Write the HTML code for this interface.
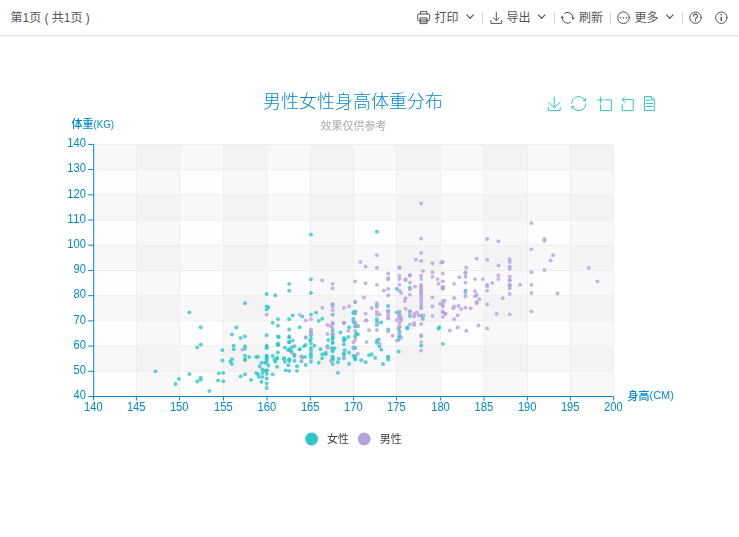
<!DOCTYPE html>
<html lang="zh"><head><meta charset="utf-8"><title>男性女性身高体重分布</title>
<style>
html,body{margin:0;padding:0;background:#fff;}
body{width:739px;height:537px;overflow:hidden;position:relative;font-family:"Liberation Sans", "Noto Sans CJK SC", sans-serif;}
.tb{position:absolute;left:0;top:0;width:739px;height:35px;border-bottom:1px solid #e0e0e0;background:#fff;}
.tb span{position:absolute;top:9.3px;height:18px;line-height:18px;font-size:12px;color:#555;white-space:nowrap;}
.tb i.sep{position:absolute;top:12px;width:1px;height:12px;background:#d4d4d4;}
.tb svg{position:absolute;overflow:visible;}
svg text{font-family:"Liberation Sans", "Noto Sans CJK SC", sans-serif;}
</style></head><body>
<div class="tb">
<span style="left:10.5px">第1页 ( 共1页 )</span>
<span style="left:434.5px">打印</span>
<span style="left:506.5px">导出</span>
<span style="left:579.1px">刷新</span>
<span style="left:634.5px">更多</span>
<i class="sep" style="left:482.2px"></i>
<i class="sep" style="left:554.0px"></i>
<i class="sep" style="left:609.8px"></i>
<i class="sep" style="left:681.5px"></i>
<svg width="739" height="35" viewBox="0 0 739 35" style="left:0;top:0" fill="none" stroke="#555" stroke-width="1" stroke-linecap="round" stroke-linejoin="round">
<path d="M420.4 14v-2.4h6.6v2.4M420.4 20.6h-1.7q-1 0-1-1v-4.6q0-1 1-1h10q1 0 1 1v4.6q0 1-1 1h-1.7M420.4 17.9h6.6v5.7h-6.6zM420.4 19.9h6.6M420.4 21.8h6.6"/>
<path d="M466.6 14.6l3.5 3.7l3.5-3.7" stroke-width="1.2" stroke-linecap="butt"/>
<path d="M538.2 14.6l3.5 3.7l3.5-3.7" stroke-width="1.2" stroke-linecap="butt"/>
<path d="M666.3 14.6l3.5 3.7l3.5-3.7" stroke-width="1.2" stroke-linecap="butt"/>
<path d="M496.3 12.3v8.2M493.4 17.6l2.9 2.9l2.9-2.9M490.9 20.4v3h10.8v-3"/>
<path d="M564.23 13.54A5.4 5.4 0 0 1 572.95 17.80M570.87 22.06A5.4 5.4 0 0 1 562.15 17.80" stroke-linecap="butt"/>
<path d="M571.25 17.60h3.4l-1.7 2.5zM560.45 18.00h3.4l-1.7 -2.5z" fill="#555" stroke="none"/>
<circle cx="623.5" cy="17.7" r="5.8"/>
<g fill="#555" stroke="none"><circle cx="620.5" cy="17.8" r="0.8"/><circle cx="623.5" cy="17.8" r="0.8"/><circle cx="626.5" cy="17.8" r="0.8"/></g>
<circle cx="695.5" cy="17.7" r="5.7"/>
<path d="M693.5 16.1a2 2 0 1 1 3 1.7q-1 0.6-1 1.5" stroke-width="1.15"/><circle cx="695.5" cy="21" r="0.75" fill="#555" stroke="none"/>
<circle cx="721.3" cy="17.7" r="5.7"/>
<path d="M721.3 16.8v4.2" stroke-width="1.5" stroke-linecap="butt"/><circle cx="721.3" cy="14.6" r="0.85" fill="#555" stroke="none"/>
</svg>
</div>
<svg width="739" height="502" viewBox="0 35 739 502" style="position:absolute;left:0;top:35px;will-change:transform">
<rect x="93.55" y="144.40" width="42.90" height="252.10" fill="rgba(250,250,250,0.1)"/>
<rect x="136.45" y="144.40" width="43.00" height="252.10" fill="rgba(200,200,200,0.1)"/>
<rect x="179.45" y="144.40" width="44.05" height="252.10" fill="rgba(250,250,250,0.1)"/>
<rect x="223.50" y="144.40" width="43.50" height="252.10" fill="rgba(200,200,200,0.1)"/>
<rect x="267.00" y="144.40" width="43.40" height="252.10" fill="rgba(250,250,250,0.1)"/>
<rect x="310.40" y="144.40" width="43.10" height="252.10" fill="rgba(200,200,200,0.1)"/>
<rect x="353.50" y="144.40" width="43.10" height="252.10" fill="rgba(250,250,250,0.1)"/>
<rect x="396.60" y="144.40" width="44.10" height="252.10" fill="rgba(200,200,200,0.1)"/>
<rect x="440.70" y="144.40" width="43.30" height="252.10" fill="rgba(250,250,250,0.1)"/>
<rect x="484.00" y="144.40" width="43.40" height="252.10" fill="rgba(200,200,200,0.1)"/>
<rect x="527.40" y="144.40" width="43.00" height="252.10" fill="rgba(250,250,250,0.1)"/>
<rect x="570.40" y="144.40" width="43.20" height="252.10" fill="rgba(200,200,200,0.1)"/>
<rect x="93.65" y="371.29" width="519.95" height="25.21" fill="rgba(250,250,250,0.1)"/>
<rect x="93.65" y="346.08" width="519.95" height="25.21" fill="rgba(200,200,200,0.1)"/>
<rect x="93.65" y="320.87" width="519.95" height="25.21" fill="rgba(250,250,250,0.1)"/>
<rect x="93.65" y="295.66" width="519.95" height="25.21" fill="rgba(200,200,200,0.1)"/>
<rect x="93.65" y="270.45" width="519.95" height="25.21" fill="rgba(250,250,250,0.1)"/>
<rect x="93.65" y="245.24" width="519.95" height="25.21" fill="rgba(200,200,200,0.1)"/>
<rect x="93.65" y="220.03" width="519.95" height="25.21" fill="rgba(250,250,250,0.1)"/>
<rect x="93.65" y="194.82" width="519.95" height="25.21" fill="rgba(200,200,200,0.1)"/>
<rect x="93.65" y="169.61" width="519.95" height="25.21" fill="rgba(250,250,250,0.1)"/>
<rect x="93.65" y="144.40" width="519.95" height="25.21" fill="rgba(200,200,200,0.1)"/>
<g stroke="#eee" stroke-width="1">
<line x1="136.4" y1="144.4" x2="136.4" y2="396.5"/>
<line x1="179.4" y1="144.4" x2="179.4" y2="396.5"/>
<line x1="223.5" y1="144.4" x2="223.5" y2="396.5"/>
<line x1="267.0" y1="144.4" x2="267.0" y2="396.5"/>
<line x1="310.4" y1="144.4" x2="310.4" y2="396.5"/>
<line x1="353.5" y1="144.4" x2="353.5" y2="396.5"/>
<line x1="396.6" y1="144.4" x2="396.6" y2="396.5"/>
<line x1="440.7" y1="144.4" x2="440.7" y2="396.5"/>
<line x1="484.0" y1="144.4" x2="484.0" y2="396.5"/>
<line x1="527.4" y1="144.4" x2="527.4" y2="396.5"/>
<line x1="570.4" y1="144.4" x2="570.4" y2="396.5"/>
<line x1="613.6" y1="144.4" x2="613.6" y2="396.5"/>
<line x1="93.7" y1="371.3" x2="613.6" y2="371.3"/>
<line x1="93.7" y1="346.1" x2="613.6" y2="346.1"/>
<line x1="93.7" y1="320.9" x2="613.6" y2="320.9"/>
<line x1="93.7" y1="295.7" x2="613.6" y2="295.7"/>
<line x1="93.7" y1="270.4" x2="613.6" y2="270.4"/>
<line x1="93.7" y1="245.2" x2="613.6" y2="245.2"/>
<line x1="93.7" y1="220.0" x2="613.6" y2="220.0"/>
<line x1="93.7" y1="194.8" x2="613.6" y2="194.8"/>
<line x1="93.7" y1="169.6" x2="613.6" y2="169.6"/>
<line x1="93.7" y1="144.4" x2="613.6" y2="144.4"/>
</g>
<g stroke="#008acd" stroke-width="1">
<line x1="93.7" y1="144.4" x2="93.7" y2="396.5"/>
<line x1="93.7" y1="396.5" x2="613.6" y2="396.5"/>
<line x1="93.5" y1="396.5" x2="93.5" y2="400.5"/>
<line x1="136.4" y1="396.5" x2="136.4" y2="400.5"/>
<line x1="179.4" y1="396.5" x2="179.4" y2="400.5"/>
<line x1="223.5" y1="396.5" x2="223.5" y2="400.5"/>
<line x1="267.0" y1="396.5" x2="267.0" y2="400.5"/>
<line x1="310.4" y1="396.5" x2="310.4" y2="400.5"/>
<line x1="353.5" y1="396.5" x2="353.5" y2="400.5"/>
<line x1="396.6" y1="396.5" x2="396.6" y2="400.5"/>
<line x1="440.7" y1="396.5" x2="440.7" y2="400.5"/>
<line x1="484.0" y1="396.5" x2="484.0" y2="400.5"/>
<line x1="527.4" y1="396.5" x2="527.4" y2="400.5"/>
<line x1="570.4" y1="396.5" x2="570.4" y2="400.5"/>
<line x1="613.6" y1="396.5" x2="613.6" y2="400.5"/>
<line x1="88.2" y1="396.5" x2="93.7" y2="396.5"/>
<line x1="88.2" y1="371.3" x2="93.7" y2="371.3"/>
<line x1="88.2" y1="346.1" x2="93.7" y2="346.1"/>
<line x1="88.2" y1="320.9" x2="93.7" y2="320.9"/>
<line x1="88.2" y1="295.7" x2="93.7" y2="295.7"/>
<line x1="88.2" y1="270.4" x2="93.7" y2="270.4"/>
<line x1="88.2" y1="245.2" x2="93.7" y2="245.2"/>
<line x1="88.2" y1="220.0" x2="93.7" y2="220.0"/>
<line x1="88.2" y1="194.8" x2="93.7" y2="194.8"/>
<line x1="88.2" y1="169.6" x2="93.7" y2="169.6"/>
<line x1="88.2" y1="144.4" x2="93.7" y2="144.4"/>
</g>
<g fill="#008acd" font-size="11">
<text x="93.3" y="411.4" text-anchor="middle" font-size="12" textLength="18.6" lengthAdjust="spacingAndGlyphs">140</text>
<text x="136.2" y="411.4" text-anchor="middle" font-size="12" textLength="18.6" lengthAdjust="spacingAndGlyphs">145</text>
<text x="179.2" y="411.4" text-anchor="middle" font-size="12" textLength="18.6" lengthAdjust="spacingAndGlyphs">150</text>
<text x="223.3" y="411.4" text-anchor="middle" font-size="12" textLength="18.6" lengthAdjust="spacingAndGlyphs">155</text>
<text x="266.8" y="411.4" text-anchor="middle" font-size="12" textLength="18.6" lengthAdjust="spacingAndGlyphs">160</text>
<text x="310.2" y="411.4" text-anchor="middle" font-size="12" textLength="18.6" lengthAdjust="spacingAndGlyphs">165</text>
<text x="353.3" y="411.4" text-anchor="middle" font-size="12" textLength="18.6" lengthAdjust="spacingAndGlyphs">170</text>
<text x="396.4" y="411.4" text-anchor="middle" font-size="12" textLength="18.6" lengthAdjust="spacingAndGlyphs">175</text>
<text x="440.5" y="411.4" text-anchor="middle" font-size="12" textLength="18.6" lengthAdjust="spacingAndGlyphs">180</text>
<text x="483.8" y="411.4" text-anchor="middle" font-size="12" textLength="18.6" lengthAdjust="spacingAndGlyphs">185</text>
<text x="527.2" y="411.4" text-anchor="middle" font-size="12" textLength="18.6" lengthAdjust="spacingAndGlyphs">190</text>
<text x="570.2" y="411.4" text-anchor="middle" font-size="12" textLength="18.6" lengthAdjust="spacingAndGlyphs">195</text>
<text x="613.4" y="411.4" text-anchor="middle" font-size="12" textLength="18.6" lengthAdjust="spacingAndGlyphs">200</text>
<text x="85.9" y="399.2" text-anchor="end" font-size="12" textLength="12.4" lengthAdjust="spacingAndGlyphs">40</text>
<text x="85.9" y="374.0" text-anchor="end" font-size="12" textLength="12.4" lengthAdjust="spacingAndGlyphs">50</text>
<text x="85.9" y="348.8" text-anchor="end" font-size="12" textLength="12.4" lengthAdjust="spacingAndGlyphs">60</text>
<text x="85.9" y="323.6" text-anchor="end" font-size="12" textLength="12.4" lengthAdjust="spacingAndGlyphs">70</text>
<text x="85.9" y="298.4" text-anchor="end" font-size="12" textLength="12.4" lengthAdjust="spacingAndGlyphs">80</text>
<text x="85.9" y="273.1" text-anchor="end" font-size="12" textLength="12.4" lengthAdjust="spacingAndGlyphs">90</text>
<text x="85.9" y="247.9" text-anchor="end" font-size="12" textLength="18.6" lengthAdjust="spacingAndGlyphs">100</text>
<text x="85.9" y="222.7" text-anchor="end" font-size="12" textLength="18.6" lengthAdjust="spacingAndGlyphs">110</text>
<text x="85.9" y="197.5" text-anchor="end" font-size="12" textLength="18.6" lengthAdjust="spacingAndGlyphs">120</text>
<text x="85.9" y="172.3" text-anchor="end" font-size="12" textLength="18.6" lengthAdjust="spacingAndGlyphs">130</text>
<text x="85.9" y="147.1" text-anchor="end" font-size="12" textLength="18.6" lengthAdjust="spacingAndGlyphs">140</text>
<text x="71.5" y="128.2" font-weight="500">体重<tspan dy="-0.4" font-weight="400" font-size="11.6" textLength="20.6" lengthAdjust="spacingAndGlyphs">(KG)</tspan></text>
<text x="627.5" y="399.5" font-weight="500">身高<tspan dy="-0.4" font-weight="400" font-size="11.6" textLength="24.3" lengthAdjust="spacingAndGlyphs">(CM)</tspan></text>
</g>
<text x="352.9" y="108.2" text-anchor="middle" font-size="18" font-weight="300" fill="#008acd">男性女性身高体重分布</text>
<text x="353.5" y="130" text-anchor="middle" font-size="11" fill="#aaa">效果仅供参考</text>
<g fill="none" stroke="#2ec7c9" stroke-width="1">
<path transform="translate(547.143 96.600) scale(0.24138)" vector-effect="non-scaling-stroke" d="M4.7,22.9L29.3,45.5L54.7,23.4M4.6,43.6L4.6,58L53.8,58L53.8,43.6M29.2,45.1L29.2,0"/>
<path transform="translate(571.227 96.127) scale(0.24911)" vector-effect="non-scaling-stroke" d="M47,18.9h9.8V8.7M56.3,20.1C52.1,9,40.5,0.6,26.8,2.1C12.6,3.7,1.6,16.2,2.1,30.6M13,41.1H3.1v10.2M3.7,39.9c4.2,11.1,15.8,19.5,29.5,18c14.2-1.6,25.2-14.1,24.7-28.5"/>
<path transform="translate(597.350 96.600) scale(0.24138)" vector-effect="non-scaling-stroke" d="M0,13.5h26.9M13.5,26.9V0M32.1,13.5H58V58H13.5V32.1"/>
<path transform="translate(619.650 96.254) scale(0.24691)" vector-effect="non-scaling-stroke" d="M22,1.4L9.9,13.5l12.3,12.3M10.3,13.5H54.9v44.6H10.3v-26"/>
<path transform="translate(641.587 96.100) scale(0.25000)" vector-effect="non-scaling-stroke" d="M17.5,17.3H33M45.4,29.5h-28M11.5,2v56H51V14.8L38.4,2H11.5zM38.4,2.2v12.7H51M45.4,41.7h-28"/>
</g>
<circle cx="311.6" cy="439" r="6.4" fill="#2ec7c9"/>
<circle cx="364.2" cy="439" r="6.4" fill="#b6a2de"/>
<g fill="#444" font-size="11"><text x="327" y="443">女性</text><text x="379.7" y="443">男性</text></g>
<g fill="#2ec7c9" fill-opacity="0.8">
<circle cx="277.07" cy="366.81" r="1.95"/>
<circle cx="331.76" cy="348.15" r="1.95"/>
<circle cx="262.32" cy="372.86" r="1.95"/>
<circle cx="240.62" cy="338.07" r="1.95"/>
<circle cx="230.20" cy="361.76" r="1.95"/>
<circle cx="353.46" cy="348.15" r="1.95"/>
<circle cx="258.84" cy="376.89" r="1.95"/>
<circle cx="318.74" cy="320.92" r="1.95"/>
<circle cx="407.28" cy="328.49" r="1.95"/>
<circle cx="268.39" cy="307.31" r="1.95"/>
<circle cx="375.16" cy="357.73" r="1.95"/>
<circle cx="361.27" cy="360.25" r="1.95"/>
<circle cx="378.63" cy="339.33" r="1.95"/>
<circle cx="209.37" cy="391.01" r="1.95"/>
<circle cx="266.66" cy="370.84" r="1.95"/>
<circle cx="155.55" cy="371.34" r="1.95"/>
<circle cx="337.84" cy="372.86" r="1.95"/>
<circle cx="396.86" cy="312.35" r="1.95"/>
<circle cx="240.62" cy="376.39" r="1.95"/>
<circle cx="332.63" cy="323.45" r="1.95"/>
<circle cx="262.32" cy="369.33" r="1.95"/>
<circle cx="396.86" cy="288.91" r="1.95"/>
<circle cx="325.68" cy="352.69" r="1.95"/>
<circle cx="409.88" cy="275.55" r="1.95"/>
<circle cx="355.20" cy="313.36" r="1.95"/>
<circle cx="388.18" cy="359.50" r="1.95"/>
<circle cx="379.50" cy="346.13" r="1.95"/>
<circle cx="439.40" cy="327.23" r="1.95"/>
<circle cx="357.80" cy="325.97" r="1.95"/>
<circle cx="266.66" cy="378.40" r="1.95"/>
<circle cx="218.05" cy="380.42" r="1.95"/>
<circle cx="284.02" cy="358.24" r="1.95"/>
<circle cx="409.88" cy="287.65" r="1.95"/>
<circle cx="266.66" cy="359.75" r="1.95"/>
<circle cx="197.21" cy="381.43" r="1.95"/>
<circle cx="284.89" cy="361.76" r="1.95"/>
<circle cx="353.46" cy="312.35" r="1.95"/>
<circle cx="268.39" cy="365.55" r="1.95"/>
<circle cx="277.94" cy="325.71" r="1.95"/>
<circle cx="322.21" cy="354.20" r="1.95"/>
<circle cx="343.91" cy="339.83" r="1.95"/>
<circle cx="299.64" cy="349.41" r="1.95"/>
<circle cx="332.63" cy="359.50" r="1.95"/>
<circle cx="266.66" cy="370.34" r="1.95"/>
<circle cx="277.94" cy="344.87" r="1.95"/>
<circle cx="332.63" cy="349.92" r="1.95"/>
<circle cx="310.93" cy="355.21" r="1.95"/>
<circle cx="266.66" cy="370.34" r="1.95"/>
<circle cx="353.46" cy="313.11" r="1.95"/>
<circle cx="244.96" cy="346.13" r="1.95"/>
<circle cx="332.63" cy="343.11" r="1.95"/>
<circle cx="272.73" cy="322.69" r="1.95"/>
<circle cx="294.43" cy="355.97" r="1.95"/>
<circle cx="200.69" cy="379.66" r="1.95"/>
<circle cx="244.96" cy="360.00" r="1.95"/>
<circle cx="338.70" cy="358.74" r="1.95"/>
<circle cx="442.87" cy="343.87" r="1.95"/>
<circle cx="314.40" cy="345.63" r="1.95"/>
<circle cx="310.06" cy="340.59" r="1.95"/>
<circle cx="305.72" cy="344.87" r="1.95"/>
<circle cx="231.94" cy="364.03" r="1.95"/>
<circle cx="266.66" cy="309.58" r="1.95"/>
<circle cx="292.70" cy="340.59" r="1.95"/>
<circle cx="316.13" cy="312.60" r="1.95"/>
<circle cx="275.34" cy="295.21" r="1.95"/>
<circle cx="284.02" cy="358.99" r="1.95"/>
<circle cx="318.74" cy="362.77" r="1.95"/>
<circle cx="388.18" cy="306.05" r="1.95"/>
<circle cx="376.90" cy="342.86" r="1.95"/>
<circle cx="332.63" cy="356.47" r="1.95"/>
<circle cx="189.40" cy="374.12" r="1.95"/>
<circle cx="305.72" cy="365.04" r="1.95"/>
<circle cx="297.04" cy="370.84" r="1.95"/>
<circle cx="197.21" cy="347.39" r="1.95"/>
<circle cx="344.78" cy="339.33" r="1.95"/>
<circle cx="301.38" cy="356.47" r="1.95"/>
<circle cx="277.07" cy="358.74" r="1.95"/>
<circle cx="223.25" cy="381.18" r="1.95"/>
<circle cx="353.46" cy="318.91" r="1.95"/>
<circle cx="407.28" cy="327.48" r="1.95"/>
<circle cx="353.46" cy="321.93" r="1.95"/>
<circle cx="288.36" cy="350.17" r="1.95"/>
<circle cx="356.06" cy="333.53" r="1.95"/>
<circle cx="302.25" cy="316.39" r="1.95"/>
<circle cx="349.12" cy="363.78" r="1.95"/>
<circle cx="294.43" cy="346.13" r="1.95"/>
<circle cx="218.91" cy="373.36" r="1.95"/>
<circle cx="264.92" cy="370.84" r="1.95"/>
<circle cx="381.24" cy="322.44" r="1.95"/>
<circle cx="353.46" cy="355.97" r="1.95"/>
<circle cx="278.81" cy="337.06" r="1.95"/>
<circle cx="344.78" cy="350.17" r="1.95"/>
<circle cx="320.47" cy="349.16" r="1.95"/>
<circle cx="261.45" cy="381.68" r="1.95"/>
<circle cx="288.36" cy="365.29" r="1.95"/>
<circle cx="257.98" cy="374.37" r="1.95"/>
<circle cx="290.96" cy="351.18" r="1.95"/>
<circle cx="257.98" cy="356.72" r="1.95"/>
<circle cx="438.53" cy="328.49" r="1.95"/>
<circle cx="291.83" cy="347.14" r="1.95"/>
<circle cx="275.34" cy="361.76" r="1.95"/>
<circle cx="189.40" cy="312.35" r="1.95"/>
<circle cx="337.84" cy="362.27" r="1.95"/>
<circle cx="343.91" cy="322.94" r="1.95"/>
<circle cx="381.24" cy="349.66" r="1.95"/>
<circle cx="369.08" cy="355.21" r="1.95"/>
<circle cx="422.90" cy="318.91" r="1.95"/>
<circle cx="303.98" cy="346.13" r="1.95"/>
<circle cx="292.70" cy="315.38" r="1.95"/>
<circle cx="340.44" cy="332.52" r="1.95"/>
<circle cx="325.68" cy="354.20" r="1.95"/>
<circle cx="376.90" cy="231.68" r="1.95"/>
<circle cx="297.04" cy="366.30" r="1.95"/>
<circle cx="348.25" cy="337.06" r="1.95"/>
<circle cx="334.36" cy="348.15" r="1.95"/>
<circle cx="262.32" cy="376.89" r="1.95"/>
<circle cx="332.63" cy="338.07" r="1.95"/>
<circle cx="277.07" cy="357.73" r="1.95"/>
<circle cx="266.66" cy="383.44" r="1.95"/>
<circle cx="294.43" cy="360.76" r="1.95"/>
<circle cx="285.75" cy="370.34" r="1.95"/>
<circle cx="277.94" cy="345.13" r="1.95"/>
<circle cx="175.51" cy="383.95" r="1.95"/>
<circle cx="244.96" cy="348.66" r="1.95"/>
<circle cx="294.43" cy="354.71" r="1.95"/>
<circle cx="376.90" cy="340.59" r="1.95"/>
<circle cx="223.25" cy="372.86" r="1.95"/>
<circle cx="236.28" cy="327.48" r="1.95"/>
<circle cx="301.38" cy="361.26" r="1.95"/>
<circle cx="274.47" cy="359.75" r="1.95"/>
<circle cx="290.96" cy="350.67" r="1.95"/>
<circle cx="327.42" cy="346.13" r="1.95"/>
<circle cx="266.66" cy="358.74" r="1.95"/>
<circle cx="266.66" cy="387.98" r="1.95"/>
<circle cx="343.91" cy="344.37" r="1.95"/>
<circle cx="251.03" cy="379.92" r="1.95"/>
<circle cx="231.94" cy="334.54" r="1.95"/>
<circle cx="266.66" cy="373.87" r="1.95"/>
<circle cx="328.29" cy="340.08" r="1.95"/>
<circle cx="249.30" cy="356.97" r="1.95"/>
<circle cx="332.63" cy="351.18" r="1.95"/>
<circle cx="231.94" cy="359.24" r="1.95"/>
<circle cx="284.89" cy="347.65" r="1.95"/>
<circle cx="382.97" cy="364.03" r="1.95"/>
<circle cx="264.92" cy="362.77" r="1.95"/>
<circle cx="357.80" cy="334.29" r="1.95"/>
<circle cx="259.71" cy="366.30" r="1.95"/>
<circle cx="244.96" cy="355.71" r="1.95"/>
<circle cx="277.94" cy="336.55" r="1.95"/>
<circle cx="289.23" cy="337.56" r="1.95"/>
<circle cx="266.66" cy="346.89" r="1.95"/>
<circle cx="343.91" cy="353.70" r="1.95"/>
<circle cx="310.93" cy="335.29" r="1.95"/>
<circle cx="289.23" cy="370.84" r="1.95"/>
<circle cx="310.93" cy="314.62" r="1.95"/>
<circle cx="322.21" cy="358.24" r="1.95"/>
<circle cx="266.66" cy="355.97" r="1.95"/>
<circle cx="200.69" cy="344.62" r="1.95"/>
<circle cx="355.20" cy="322.69" r="1.95"/>
<circle cx="289.23" cy="283.87" r="1.95"/>
<circle cx="355.20" cy="355.97" r="1.95"/>
<circle cx="256.24" cy="356.97" r="1.95"/>
<circle cx="376.90" cy="321.68" r="1.95"/>
<circle cx="332.63" cy="304.29" r="1.95"/>
<circle cx="289.23" cy="342.10" r="1.95"/>
<circle cx="332.63" cy="330.76" r="1.95"/>
<circle cx="233.67" cy="349.16" r="1.95"/>
<circle cx="398.60" cy="328.49" r="1.95"/>
<circle cx="371.69" cy="354.20" r="1.95"/>
<circle cx="289.23" cy="349.16" r="1.95"/>
<circle cx="266.66" cy="355.97" r="1.95"/>
<circle cx="310.93" cy="347.90" r="1.95"/>
<circle cx="465.44" cy="290.67" r="1.95"/>
<circle cx="322.21" cy="318.66" r="1.95"/>
<circle cx="310.93" cy="353.70" r="1.95"/>
<circle cx="421.17" cy="345.63" r="1.95"/>
<circle cx="310.93" cy="350.17" r="1.95"/>
<circle cx="399.47" cy="313.61" r="1.95"/>
<circle cx="222.39" cy="360.50" r="1.95"/>
<circle cx="256.24" cy="373.11" r="1.95"/>
<circle cx="376.90" cy="305.55" r="1.95"/>
<circle cx="343.91" cy="358.24" r="1.95"/>
<circle cx="277.94" cy="352.44" r="1.95"/>
<circle cx="332.63" cy="358.24" r="1.95"/>
<circle cx="310.93" cy="331.76" r="1.95"/>
<circle cx="399.47" cy="331.76" r="1.95"/>
<circle cx="244.96" cy="374.37" r="1.95"/>
<circle cx="299.64" cy="349.16" r="1.95"/>
<circle cx="332.63" cy="336.55" r="1.95"/>
<circle cx="310.93" cy="357.73" r="1.95"/>
<circle cx="310.93" cy="338.82" r="1.95"/>
<circle cx="343.91" cy="354.20" r="1.95"/>
<circle cx="289.23" cy="361.01" r="1.95"/>
<circle cx="305.72" cy="337.56" r="1.95"/>
<circle cx="409.88" cy="311.34" r="1.95"/>
<circle cx="343.91" cy="340.59" r="1.95"/>
<circle cx="399.47" cy="336.55" r="1.95"/>
<circle cx="261.45" cy="362.77" r="1.95"/>
<circle cx="266.66" cy="362.27" r="1.95"/>
<circle cx="355.20" cy="358.24" r="1.95"/>
<circle cx="289.23" cy="319.16" r="1.95"/>
<circle cx="332.63" cy="359.50" r="1.95"/>
<circle cx="289.23" cy="359.50" r="1.95"/>
<circle cx="272.73" cy="355.97" r="1.95"/>
<circle cx="266.66" cy="348.15" r="1.95"/>
<circle cx="244.96" cy="336.55" r="1.95"/>
<circle cx="289.23" cy="359.50" r="1.95"/>
<circle cx="200.69" cy="377.65" r="1.95"/>
<circle cx="355.20" cy="326.22" r="1.95"/>
<circle cx="310.93" cy="292.94" r="1.95"/>
<circle cx="376.90" cy="319.16" r="1.95"/>
<circle cx="310.93" cy="343.36" r="1.95"/>
<circle cx="355.20" cy="336.55" r="1.95"/>
<circle cx="355.20" cy="359.50" r="1.95"/>
<circle cx="355.20" cy="347.90" r="1.95"/>
<circle cx="277.94" cy="319.16" r="1.95"/>
<circle cx="332.63" cy="364.03" r="1.95"/>
<circle cx="332.63" cy="338.82" r="1.95"/>
<circle cx="310.93" cy="279.33" r="1.95"/>
<circle cx="289.23" cy="329.50" r="1.95"/>
<circle cx="200.69" cy="327.23" r="1.95"/>
<circle cx="343.91" cy="338.07" r="1.95"/>
<circle cx="355.20" cy="311.34" r="1.95"/>
<circle cx="398.60" cy="339.83" r="1.95"/>
<circle cx="398.60" cy="351.43" r="1.95"/>
<circle cx="266.66" cy="357.23" r="1.95"/>
<circle cx="310.93" cy="234.45" r="1.95"/>
<circle cx="388.18" cy="356.97" r="1.95"/>
<circle cx="355.20" cy="302.02" r="1.95"/>
<circle cx="266.66" cy="293.95" r="1.95"/>
<circle cx="332.63" cy="334.29" r="1.95"/>
<circle cx="332.63" cy="314.62" r="1.95"/>
<circle cx="332.63" cy="342.10" r="1.95"/>
<circle cx="222.39" cy="350.17" r="1.95"/>
<circle cx="289.23" cy="290.67" r="1.95"/>
<circle cx="399.47" cy="336.55" r="1.95"/>
<circle cx="365.61" cy="362.27" r="1.95"/>
<circle cx="244.96" cy="359.50" r="1.95"/>
<circle cx="310.93" cy="361.76" r="1.95"/>
<circle cx="266.66" cy="345.63" r="1.95"/>
<circle cx="388.18" cy="311.34" r="1.95"/>
<circle cx="289.23" cy="342.10" r="1.95"/>
<circle cx="388.18" cy="356.97" r="1.95"/>
<circle cx="289.23" cy="336.55" r="1.95"/>
<circle cx="277.94" cy="343.36" r="1.95"/>
<circle cx="233.67" cy="345.63" r="1.95"/>
<circle cx="178.99" cy="378.91" r="1.95"/>
<circle cx="349.12" cy="352.44" r="1.95"/>
<circle cx="266.66" cy="335.29" r="1.95"/>
<circle cx="399.47" cy="336.55" r="1.95"/>
<circle cx="349.12" cy="327.23" r="1.95"/>
<circle cx="266.66" cy="306.55" r="1.95"/>
<circle cx="376.90" cy="324.96" r="1.95"/>
<circle cx="289.23" cy="342.10" r="1.95"/>
<circle cx="244.96" cy="303.28" r="1.95"/>
<circle cx="409.88" cy="315.88" r="1.95"/>
<circle cx="304.85" cy="356.97" r="1.95"/>
<circle cx="272.73" cy="374.37" r="1.95"/>
<circle cx="388.18" cy="329.50" r="1.95"/>
<circle cx="299.64" cy="327.23" r="1.95"/>
</g><g fill="#b6a2de" fill-opacity="0.8">
<circle cx="388.18" cy="331.51" r="1.95"/>
<circle cx="399.47" cy="315.88" r="1.95"/>
<circle cx="557.45" cy="293.45" r="1.95"/>
<circle cx="496.69" cy="313.87" r="1.95"/>
<circle cx="502.76" cy="298.24" r="1.95"/>
<circle cx="453.28" cy="308.32" r="1.95"/>
<circle cx="474.98" cy="279.08" r="1.95"/>
<circle cx="479.32" cy="299.24" r="1.95"/>
<circle cx="396.86" cy="340.59" r="1.95"/>
<circle cx="474.98" cy="291.18" r="1.95"/>
<circle cx="440.26" cy="303.78" r="1.95"/>
<circle cx="421.17" cy="286.13" r="1.95"/>
<circle cx="544.43" cy="270.00" r="1.95"/>
<circle cx="405.54" cy="308.82" r="1.95"/>
<circle cx="388.18" cy="317.90" r="1.95"/>
<circle cx="474.98" cy="296.22" r="1.95"/>
<circle cx="550.50" cy="260.42" r="1.95"/>
<circle cx="366.48" cy="320.42" r="1.95"/>
<circle cx="379.50" cy="314.37" r="1.95"/>
<circle cx="405.54" cy="280.34" r="1.95"/>
<circle cx="405.54" cy="298.24" r="1.95"/>
<circle cx="444.60" cy="300.76" r="1.95"/>
<circle cx="376.90" cy="330.00" r="1.95"/>
<circle cx="405.54" cy="279.08" r="1.95"/>
<circle cx="383.84" cy="290.67" r="1.95"/>
<circle cx="422.90" cy="271.01" r="1.95"/>
<circle cx="442.87" cy="288.15" r="1.95"/>
<circle cx="442.87" cy="304.29" r="1.95"/>
<circle cx="305.72" cy="337.56" r="1.95"/>
<circle cx="379.50" cy="343.36" r="1.95"/>
<circle cx="470.64" cy="308.32" r="1.95"/>
<circle cx="401.20" cy="320.42" r="1.95"/>
<circle cx="509.71" cy="314.37" r="1.95"/>
<circle cx="520.12" cy="284.87" r="1.95"/>
<circle cx="377.76" cy="322.69" r="1.95"/>
<circle cx="353.46" cy="346.89" r="1.95"/>
<circle cx="457.62" cy="327.48" r="1.95"/>
<circle cx="353.46" cy="342.35" r="1.95"/>
<circle cx="421.17" cy="323.95" r="1.95"/>
<circle cx="476.72" cy="294.96" r="1.95"/>
<circle cx="498.42" cy="275.55" r="1.95"/>
<circle cx="365.61" cy="283.36" r="1.95"/>
<circle cx="376.90" cy="311.85" r="1.95"/>
<circle cx="399.47" cy="315.13" r="1.95"/>
<circle cx="442.87" cy="288.66" r="1.95"/>
<circle cx="465.44" cy="273.28" r="1.95"/>
<circle cx="509.71" cy="284.87" r="1.95"/>
<circle cx="415.96" cy="259.66" r="1.95"/>
<circle cx="371.69" cy="308.07" r="1.95"/>
<circle cx="327.42" cy="347.90" r="1.95"/>
<circle cx="349.12" cy="306.30" r="1.95"/>
<circle cx="388.18" cy="279.58" r="1.95"/>
<circle cx="376.90" cy="307.06" r="1.95"/>
<circle cx="459.36" cy="277.31" r="1.95"/>
<circle cx="302.25" cy="357.73" r="1.95"/>
<circle cx="292.70" cy="353.19" r="1.95"/>
<circle cx="366.48" cy="342.10" r="1.95"/>
<circle cx="476.72" cy="303.28" r="1.95"/>
<circle cx="388.18" cy="278.07" r="1.95"/>
<circle cx="388.18" cy="314.87" r="1.95"/>
<circle cx="414.22" cy="316.39" r="1.95"/>
<circle cx="492.35" cy="283.11" r="1.95"/>
<circle cx="327.42" cy="324.96" r="1.95"/>
<circle cx="369.08" cy="330.25" r="1.95"/>
<circle cx="457.62" cy="315.38" r="1.95"/>
<circle cx="327.42" cy="334.03" r="1.95"/>
<circle cx="421.17" cy="308.32" r="1.95"/>
<circle cx="305.72" cy="320.42" r="1.95"/>
<circle cx="544.43" cy="240.76" r="1.95"/>
<circle cx="401.20" cy="337.56" r="1.95"/>
<circle cx="363.88" cy="297.48" r="1.95"/>
<circle cx="454.15" cy="297.98" r="1.95"/>
<circle cx="330.89" cy="326.22" r="1.95"/>
<circle cx="449.81" cy="330.50" r="1.95"/>
<circle cx="414.22" cy="324.96" r="1.95"/>
<circle cx="392.52" cy="335.80" r="1.95"/>
<circle cx="418.56" cy="315.38" r="1.95"/>
<circle cx="357.80" cy="353.70" r="1.95"/>
<circle cx="461.10" cy="309.08" r="1.95"/>
<circle cx="588.70" cy="267.73" r="1.95"/>
<circle cx="441.13" cy="262.44" r="1.95"/>
<circle cx="401.20" cy="292.94" r="1.95"/>
<circle cx="445.47" cy="313.61" r="1.95"/>
<circle cx="478.46" cy="325.46" r="1.95"/>
<circle cx="401.20" cy="318.15" r="1.95"/>
<circle cx="445.47" cy="314.12" r="1.95"/>
<circle cx="414.22" cy="314.12" r="1.95"/>
<circle cx="415.09" cy="286.64" r="1.95"/>
<circle cx="454.15" cy="306.55" r="1.95"/>
<circle cx="409.88" cy="312.86" r="1.95"/>
<circle cx="396.86" cy="319.92" r="1.95"/>
<circle cx="388.18" cy="311.85" r="1.95"/>
<circle cx="310.93" cy="319.16" r="1.95"/>
<circle cx="414.22" cy="323.19" r="1.95"/>
<circle cx="544.43" cy="238.99" r="1.95"/>
<circle cx="409.88" cy="324.45" r="1.95"/>
<circle cx="348.25" cy="330.76" r="1.95"/>
<circle cx="458.49" cy="306.05" r="1.95"/>
<circle cx="438.53" cy="283.87" r="1.95"/>
<circle cx="399.47" cy="275.80" r="1.95"/>
<circle cx="482.80" cy="279.08" r="1.95"/>
<circle cx="416.83" cy="312.35" r="1.95"/>
<circle cx="330.89" cy="361.01" r="1.95"/>
<circle cx="423.77" cy="315.38" r="1.95"/>
<circle cx="343.91" cy="356.97" r="1.95"/>
<circle cx="242.35" cy="349.66" r="1.95"/>
<circle cx="442.87" cy="287.14" r="1.95"/>
<circle cx="355.20" cy="313.61" r="1.95"/>
<circle cx="421.17" cy="335.29" r="1.95"/>
<circle cx="376.90" cy="314.62" r="1.95"/>
<circle cx="310.93" cy="333.03" r="1.95"/>
<circle cx="498.42" cy="279.08" r="1.95"/>
<circle cx="310.93" cy="333.03" r="1.95"/>
<circle cx="388.18" cy="273.53" r="1.95"/>
<circle cx="399.47" cy="284.87" r="1.95"/>
<circle cx="487.14" cy="328.49" r="1.95"/>
<circle cx="421.17" cy="306.55" r="1.95"/>
<circle cx="442.87" cy="261.93" r="1.95"/>
<circle cx="442.87" cy="288.40" r="1.95"/>
<circle cx="421.17" cy="350.67" r="1.95"/>
<circle cx="421.17" cy="296.47" r="1.95"/>
<circle cx="421.17" cy="298.74" r="1.95"/>
<circle cx="421.17" cy="315.88" r="1.95"/>
<circle cx="421.17" cy="203.45" r="1.95"/>
<circle cx="299.64" cy="314.87" r="1.95"/>
<circle cx="509.71" cy="286.13" r="1.95"/>
<circle cx="597.38" cy="281.34" r="1.95"/>
<circle cx="399.47" cy="267.73" r="1.95"/>
<circle cx="322.21" cy="280.34" r="1.95"/>
<circle cx="531.41" cy="272.27" r="1.95"/>
<circle cx="322.21" cy="307.81" r="1.95"/>
<circle cx="421.17" cy="301.01" r="1.95"/>
<circle cx="437.66" cy="279.08" r="1.95"/>
<circle cx="376.90" cy="267.73" r="1.95"/>
<circle cx="531.41" cy="311.34" r="1.95"/>
<circle cx="487.14" cy="304.29" r="1.95"/>
<circle cx="343.91" cy="322.69" r="1.95"/>
<circle cx="332.63" cy="283.87" r="1.95"/>
<circle cx="399.47" cy="334.29" r="1.95"/>
<circle cx="355.20" cy="322.69" r="1.95"/>
<circle cx="531.41" cy="223.11" r="1.95"/>
<circle cx="421.17" cy="279.08" r="1.95"/>
<circle cx="531.41" cy="292.94" r="1.95"/>
<circle cx="421.17" cy="275.80" r="1.95"/>
<circle cx="476.72" cy="258.66" r="1.95"/>
<circle cx="409.88" cy="294.71" r="1.95"/>
<circle cx="421.17" cy="315.38" r="1.95"/>
<circle cx="442.87" cy="316.89" r="1.95"/>
<circle cx="365.61" cy="313.61" r="1.95"/>
<circle cx="376.90" cy="284.87" r="1.95"/>
<circle cx="376.90" cy="303.28" r="1.95"/>
<circle cx="421.17" cy="336.55" r="1.95"/>
<circle cx="421.17" cy="292.94" r="1.95"/>
<circle cx="465.44" cy="292.94" r="1.95"/>
<circle cx="355.20" cy="281.34" r="1.95"/>
<circle cx="332.63" cy="323.95" r="1.95"/>
<circle cx="399.47" cy="326.22" r="1.95"/>
<circle cx="310.93" cy="329.50" r="1.95"/>
<circle cx="487.14" cy="238.99" r="1.95"/>
<circle cx="454.15" cy="319.16" r="1.95"/>
<circle cx="376.90" cy="255.13" r="1.95"/>
<circle cx="531.41" cy="284.87" r="1.95"/>
<circle cx="432.45" cy="276.81" r="1.95"/>
<circle cx="399.47" cy="315.88" r="1.95"/>
<circle cx="355.20" cy="330.76" r="1.95"/>
<circle cx="553.11" cy="255.13" r="1.95"/>
<circle cx="365.61" cy="266.47" r="1.95"/>
<circle cx="421.17" cy="290.67" r="1.95"/>
<circle cx="421.17" cy="252.86" r="1.95"/>
<circle cx="332.63" cy="322.69" r="1.95"/>
<circle cx="332.63" cy="288.40" r="1.95"/>
<circle cx="442.87" cy="306.55" r="1.95"/>
<circle cx="465.44" cy="296.47" r="1.95"/>
<circle cx="409.88" cy="311.34" r="1.95"/>
<circle cx="498.42" cy="265.46" r="1.95"/>
<circle cx="509.71" cy="284.87" r="1.95"/>
<circle cx="509.71" cy="280.34" r="1.95"/>
<circle cx="421.17" cy="290.67" r="1.95"/>
<circle cx="388.18" cy="288.91" r="1.95"/>
<circle cx="421.17" cy="293.95" r="1.95"/>
<circle cx="365.61" cy="320.42" r="1.95"/>
<circle cx="487.14" cy="290.67" r="1.95"/>
<circle cx="487.14" cy="284.87" r="1.95"/>
<circle cx="509.71" cy="268.74" r="1.95"/>
<circle cx="509.71" cy="266.47" r="1.95"/>
<circle cx="465.44" cy="272.27" r="1.95"/>
<circle cx="409.88" cy="282.61" r="1.95"/>
<circle cx="399.47" cy="322.69" r="1.95"/>
<circle cx="399.47" cy="311.34" r="1.95"/>
<circle cx="509.71" cy="293.95" r="1.95"/>
<circle cx="509.71" cy="288.40" r="1.95"/>
<circle cx="399.47" cy="279.08" r="1.95"/>
<circle cx="357.80" cy="326.22" r="1.95"/>
<circle cx="432.45" cy="263.19" r="1.95"/>
<circle cx="421.17" cy="260.92" r="1.95"/>
<circle cx="399.47" cy="318.15" r="1.95"/>
<circle cx="465.44" cy="307.81" r="1.95"/>
<circle cx="360.40" cy="261.93" r="1.95"/>
<circle cx="509.71" cy="261.93" r="1.95"/>
<circle cx="442.87" cy="301.01" r="1.95"/>
<circle cx="421.17" cy="342.10" r="1.95"/>
<circle cx="487.14" cy="259.66" r="1.95"/>
<circle cx="343.91" cy="307.81" r="1.95"/>
<circle cx="487.14" cy="286.13" r="1.95"/>
<circle cx="442.87" cy="281.34" r="1.95"/>
<circle cx="388.18" cy="310.59" r="1.95"/>
<circle cx="332.63" cy="328.49" r="1.95"/>
<circle cx="465.44" cy="276.81" r="1.95"/>
<circle cx="266.66" cy="314.62" r="1.95"/>
<circle cx="442.87" cy="273.53" r="1.95"/>
<circle cx="332.63" cy="306.55" r="1.95"/>
<circle cx="498.42" cy="241.26" r="1.95"/>
<circle cx="399.47" cy="267.23" r="1.95"/>
<circle cx="399.47" cy="327.23" r="1.95"/>
<circle cx="404.67" cy="301.01" r="1.95"/>
<circle cx="399.47" cy="290.67" r="1.95"/>
<circle cx="432.45" cy="306.55" r="1.95"/>
<circle cx="454.15" cy="283.87" r="1.95"/>
<circle cx="421.17" cy="303.78" r="1.95"/>
<circle cx="465.44" cy="282.61" r="1.95"/>
<circle cx="421.17" cy="238.49" r="1.95"/>
<circle cx="476.72" cy="302.02" r="1.95"/>
<circle cx="432.45" cy="315.88" r="1.95"/>
<circle cx="409.88" cy="275.29" r="1.95"/>
<circle cx="509.71" cy="259.16" r="1.95"/>
<circle cx="388.18" cy="318.15" r="1.95"/>
<circle cx="332.63" cy="334.29" r="1.95"/>
<circle cx="355.20" cy="302.02" r="1.95"/>
<circle cx="332.63" cy="314.62" r="1.95"/>
<circle cx="509.71" cy="276.81" r="1.95"/>
<circle cx="388.18" cy="295.21" r="1.95"/>
<circle cx="409.88" cy="289.41" r="1.95"/>
<circle cx="442.87" cy="311.34" r="1.95"/>
<circle cx="332.63" cy="310.08" r="1.95"/>
<circle cx="509.71" cy="280.34" r="1.95"/>
<circle cx="442.87" cy="312.35" r="1.95"/>
<circle cx="332.63" cy="304.54" r="1.95"/>
<circle cx="466.30" cy="330.76" r="1.95"/>
<circle cx="466.30" cy="267.73" r="1.95"/>
<circle cx="432.45" cy="272.27" r="1.95"/>
<circle cx="355.20" cy="339.83" r="1.95"/>
<circle cx="421.17" cy="288.40" r="1.95"/>
<circle cx="432.45" cy="297.48" r="1.95"/>
<circle cx="531.41" cy="249.33" r="1.95"/>
<circle cx="421.17" cy="284.87" r="1.95"/>
<circle cx="442.87" cy="287.14" r="1.95"/>
<circle cx="442.87" cy="287.14" r="1.95"/>
</g>
</svg>
</body></html>
